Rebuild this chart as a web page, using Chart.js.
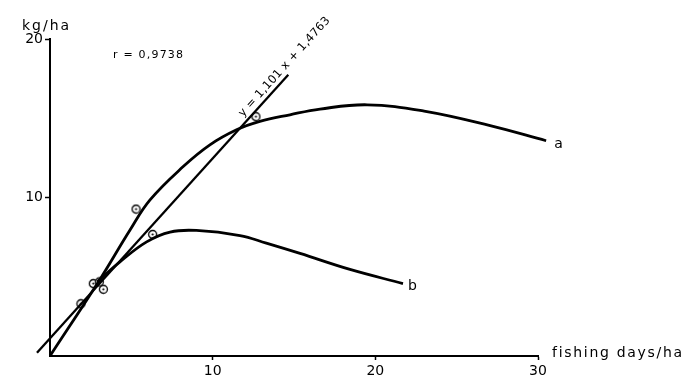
<!DOCTYPE html>
<html>
<head>
<meta charset="utf-8">
<script src="https://cdn.jsdelivr.net/npm/chart.js@4"></script>
<style>
  html, body { margin: 0; padding: 0; background: #fff; }
  #wrap { width: 700px; height: 389px; }
</style>
</head>
<body>
<div id="wrap"><canvas id="catchChart" width="700" height="389"></canvas></div>
<script>
// values
const xTicks = [10, 20, 30];
const yTicks = [10, 20];

const curveAX = [0, 2.97, 4.92, 6.15, 8.19, 9.83, 11.47, 12.9, 14.75, 16.6, 19.5, 23.0, 27.0, 30.5];
const curveAY = [0, 4.67, 7.95, 9.85, 11.95, 13.32, 14.27, 14.8, 15.22, 15.58, 15.85, 15.45, 14.55, 13.58];

const curveBX = [2.9, 4.3, 5.94, 7.38, 9.0, 11.68, 13.3, 15.37, 18.44, 21.7];
const curveBY = [4.67, 5.94, 7.2, 7.82, 7.92, 7.6, 7.12, 6.47, 5.46, 4.57];

const regX = [-0.8, 14.65];
const regY = [0.2, 17.75];

const obsX = [1.9, 2.66, 3.03, 3.28, 5.29, 6.31, 12.66];
const obsY = [3.3, 4.57, 4.67, 4.21, 9.27, 7.67, 15.1];

const pts = (xs, ys) => xs.map((x, i) => ({ x: x, y: ys[i] }));

// circle with a dot in the middle
const marker = document.createElement('canvas');
marker.width = 11; marker.height = 11;
(function () {
    const m = marker.getContext('2d');
    m.beginPath();
    m.arc(5.5, 5.5, 4, 0, Math.PI * 2);
    m.fillStyle = '#fff';
    m.fill();
    m.lineWidth = 1.3;
    m.strokeStyle = '#000';
    m.stroke();
    m.beginPath();
    m.arc(5.5, 5.5, 1.1, 0, Math.PI * 2);
    m.fillStyle = '#000';
    m.fill();
})();

const FONT = '"DejaVu Sans", sans-serif';

const textPlugin = {
    id: 'figureText',
    afterDraw(chart) {
        const c = chart.ctx;
        const xs = chart.scales.x, ys = chart.scales.y;
        c.save();
        c.fillStyle = '#000';
        c.textBaseline = 'alphabetic';
        c.textAlign = 'left';

        c.font = '14px ' + FONT;
        c.letterSpacing = '2px';
        c.fillText('kg/ha', 22, 30);

        c.letterSpacing = '1.7px';
        c.fillText('fishing days/ha', xs.right + 14, ys.bottom + 1);

        c.font = '11px ' + FONT;
        c.letterSpacing = '1.2px';
        c.fillText('r = 0,9738', 113, 58);

        // curve labels next to the ends of the curves
        c.font = '14px ' + FONT;
        c.letterSpacing = '0px';
        c.fillText('a', xs.getPixelForValue(curveAX[curveAX.length - 1]) + 8, ys.getPixelForValue(curveAY[curveAY.length - 1]) + 7);
        c.fillText('b', xs.getPixelForValue(curveBX[curveBX.length - 1]) + 5, ys.getPixelForValue(curveBY[curveBY.length - 1]) + 6);

        // regression equation along the line
        const x0 = xs.getPixelForValue(regX[0]), y0 = ys.getPixelForValue(regY[0]);
        const x1 = xs.getPixelForValue(regX[1]), y1 = ys.getPixelForValue(regY[1]);
        const ang = Math.atan2(y1 - y0, x1 - x0);
        const t = 12.1;
        const ax = xs.getPixelForValue(t);
        const ay = ys.getPixelForValue(regY[0] + (t - regX[0]) * (regY[1] - regY[0]) / (regX[1] - regX[0]));
        c.translate(ax, ay);
        c.rotate(ang);
        c.font = '11.5px ' + FONT;
        c.letterSpacing = '0.3px';
        c.fillText('y = 1,101 x + 1,4763', 0, -5);
        c.restore();
    }
};

const tickCol = ctx => (ctx.tick && ctx.tick.value === 0) ? 'rgba(0,0,0,0)' : '#000';

new Chart(document.getElementById('catchChart').getContext('2d'), {
    type: 'scatter',
    data: {
        datasets: [
            {
                label: 'a',
                data: pts(curveAX, curveAY),
                showLine: true,
                borderColor: '#000',
                borderWidth: 2.8,
                pointRadius: 0,
                tension: 0.4,
                clip: false
            },
            {
                label: 'b',
                data: pts(curveBX, curveBY),
                showLine: true,
                borderColor: '#000',
                borderWidth: 2.8,
                pointRadius: 0,
                tension: 0.4,
                clip: false
            },
            {
                label: 'regression',
                data: pts(regX, regY),
                showLine: true,
                borderColor: '#000',
                borderWidth: 2.3,
                pointRadius: 0,
                clip: false
            },
            {
                label: 'observed',
                data: pts(obsX, obsY),
                pointStyle: marker,
                pointRadius: 5,
                clip: false
            }
        ]
    },
    plugins: [textPlugin],
    options: {
        responsive: false,
        animation: false,
        events: [],
        layout: { padding: { left: 0, right: 162, top: 39, bottom: 0 } },
        plugins: {
            legend: { display: false },
            tooltip: { enabled: false }
        },
        scales: {
            x: {
                type: 'linear',
                min: 0,
                max: 30,
                afterBuildTicks: s => { s.ticks = [0].concat(xTicks).map(v => ({ value: v })); },
                afterFit: s => { s.height = 33; },
                border: { display: true, color: '#000', width: 2 },
                grid: { display: true, drawOnChartArea: false, drawTicks: true, tickLength: 4, tickColor: tickCol, tickWidth: 1.5 },
                ticks: {
                    color: '#000',
                    padding: 3,
                    font: { family: FONT, size: 14 },
                    callback: v => (v === 0 ? '' : String(v))
                }
            },
            y: {
                type: 'linear',
                min: 0,
                max: 20,
                afterBuildTicks: s => { s.ticks = [0].concat(yTicks).map(v => ({ value: v })); },
                afterFit: s => { s.width = 50; },
                border: { display: true, color: '#000', width: 2 },
                grid: { display: true, drawOnChartArea: false, drawTicks: true, tickLength: 5, tickColor: tickCol, tickWidth: 1.5 },
                ticks: {
                    color: '#000',
                    padding: 2,
                    font: { family: FONT, size: 14 },
                    callback: v => (v === 0 ? '' : String(v))
                }
            }
        }
    }
});
</script>
</body>
</html>
